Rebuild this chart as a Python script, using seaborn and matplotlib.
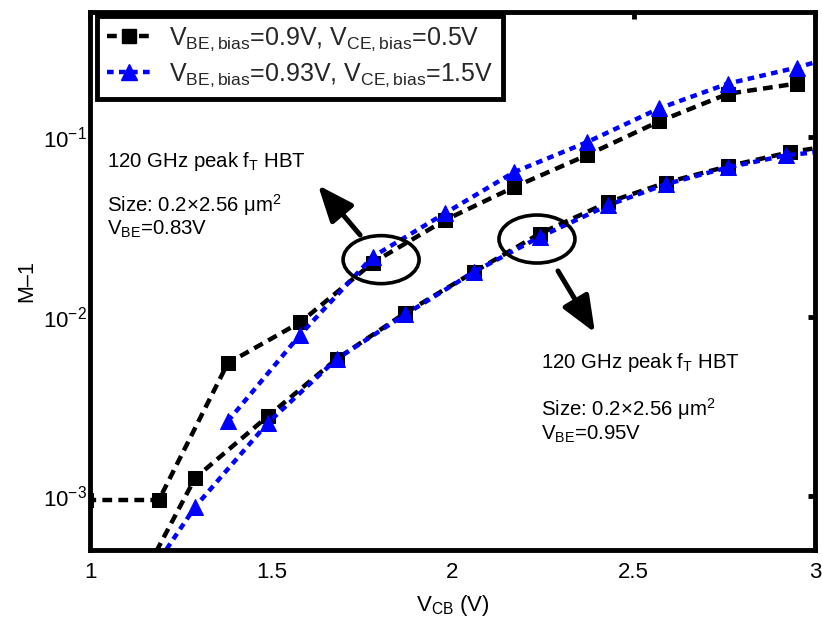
import numpy as np
import pandas as pd
import matplotlib
matplotlib.use("Agg")
import matplotlib.pyplot as plt
import seaborn as sns
from matplotlib.patches import Ellipse
from matplotlib.lines import Line2D

# ---------------- data ----------------
x_up_black = [0.99, 1.19, 1.38, 1.58, 1.78, 1.98, 2.17, 2.37, 2.57, 2.76, 2.95]
y_up_black = [9.5e-4, 9.5e-4, 5.5e-3, 9.3e-3, 0.020, 0.0346, 0.0528, 0.0794, 0.1227, 0.175, 0.1995]

x_up_blue = [1.38, 1.58, 1.78, 1.98, 2.17, 2.37, 2.57, 2.76, 2.95, 3.10]
y_up_blue = [2.61e-3, 7.94e-3, 0.0216, 0.0378, 0.064, 0.0938, 0.145, 0.1995, 0.245, 0.30]

x_lo_black = [1.10, 1.29, 1.49, 1.68, 1.87, 2.06, 2.24, 2.43, 2.59, 2.76, 2.93, 3.10]
y_lo_black = [2.37e-4, 1.26e-3, 2.78e-3, 5.8e-3, 0.0105, 0.0178, 0.029, 0.0435, 0.056, 0.069, 0.0826, 0.0935]

x_lo_blue = [1.10, 1.29, 1.49, 1.68, 1.87, 2.06, 2.24, 2.43, 2.59, 2.76, 2.92, 3.10]
y_lo_blue = [2.35e-4, 8.7e-4, 2.55e-3, 5.8e-3, 0.0103, 0.0178, 0.0278, 0.0419, 0.0549, 0.068, 0.0794, 0.0866]

legend_labels = [r'$\mathrm{V_{BE,bias}}$=0.9V, $\mathrm{V_{CE,bias}}$=0.5V',
                 r'$\mathrm{V_{BE,bias}}$=0.93V, $\mathrm{V_{CE,bias}}$=1.5V']
x_ticks = [1, 1.5, 2, 2.5, 3]
x_tick_labels = ['1', '1.5', '2', '2.5', '3']

# ---------------- style ----------------
sns.set_theme(style="white")
plt.rcParams['font.family'] = ['Liberation Sans', 'DejaVu Sans']
plt.rcParams['mathtext.fontset'] = 'custom'
plt.rcParams['mathtext.rm'] = 'Liberation Sans'
plt.rcParams['mathtext.it'] = 'Liberation Sans:italic'
plt.rcParams['mathtext.bf'] = 'Liberation Sans:bold'

fig = plt.figure(figsize=(8.22, 6.20), dpi=100)
ax = fig.add_axes([90/822, 70/620, 725/822, 538/620])
ax.set_yscale('log')
ax.set_xlim(1, 3)
ax.set_ylim(5e-4, 0.5)

black = '#000000'
blue = '#0000ff'
lw = 3.2
black_ls = (0, (2.2, 1.4))
blue_ls = (0, (1.5, 1.2))

def draw(xs, ys, color, marker, ms, ls):
    df = pd.DataFrame({'x': xs, 'y': ys})
    sns.lineplot(data=df, x='x', y='y', ax=ax, color=color, marker=marker,
                 markersize=ms, markeredgecolor=color, markerfacecolor=color,
                 linewidth=lw, linestyle=ls, estimator=None, sort=False,
                 legend=False)

draw(x_lo_black, y_lo_black, black, 's', 9.5, black_ls)
draw(x_up_black, y_up_black, black, 's', 9.5, black_ls)
draw(x_lo_blue, y_lo_blue, blue, '^', 12, blue_ls)
draw(x_up_blue, y_up_blue, blue, '^', 12, blue_ls)

# ---------------- axes ----------------
ax.set_xticks(x_ticks)
ax.set_xticklabels(x_tick_labels)
ax.minorticks_off()
ax.yaxis.set_minor_locator(matplotlib.ticker.NullLocator())
ax.tick_params(axis='both', which='major', direction='in', length=5, width=3.5,
               labelsize=16, top=True, right=True, colors='black')
ax.tick_params(axis='x', pad=9)
ax.tick_params(axis='y', pad=2)
for s in ax.spines.values():
    s.set_linewidth(3.5)
    s.set_color('black')
ax.set_xlabel(r'V$_\mathrm{CB}$ (V)', fontsize=16, labelpad=7, color='black')
ax.set_ylabel('M\u20131', fontsize=15.5, labelpad=4, color='black')
ax.grid(False)

# ---------------- legend ----------------
handles = [Line2D([], [], color=black, marker='s', markersize=9.5, linewidth=lw, linestyle=black_ls),
           Line2D([], [], color=blue, marker='^', markersize=12, linewidth=lw, linestyle=blue_ls)]
leg = ax.legend(handles, legend_labels, loc='upper left', bbox_to_anchor=(0.009, 0.993),
                fontsize=18, frameon=True, fancybox=False, framealpha=1,
                edgecolor='black', handlelength=1.8, handletextpad=0.7,
                borderpad=0.4, labelspacing=0.35, numpoints=1, borderaxespad=0)
leg.get_frame().set_linewidth(3.5)

# ---------------- annotations ----------------
def to_axes(x, y):
    ymin, ymax = np.log10(5e-4), np.log10(0.5)
    return ((x - 1) / 2.0, (np.log10(y) - ymin) / (ymax - ymin))

for cx, cy in [(1.803, 0.0208), (2.233, 0.0271)]:
    ex, ey = to_axes(cx, cy)
    ax.add_patch(Ellipse((ex, ey), 76/725, 48/538, transform=ax.transAxes,
                         fill=False, edgecolor='black', linewidth=2.6, zorder=5))

arrow_style = dict(arrowstyle='-|>,head_length=1.1,head_width=0.45',
                   color='black', lw=3.6, mutation_scale=20, shrinkA=0, shrinkB=0)
ax.annotate('', xy=(1.629, 0.0541), xytext=(1.745, 0.02856), arrowprops=arrow_style)
ax.annotate('', xy=(2.393, 0.00815), xytext=(2.291, 0.018), arrowprops=arrow_style)

fs = 14.7
# block 1
ax.text(1.047, 10**(-1 - (167 - 137) / 180), r'120 GHz peak f$_\mathrm{T}$ HBT', fontsize=fs, color='black')
ax.text(1.047, 10**(-1 - (212 - 137) / 180), 'Size: 0.2\u00d72.56 \u03bcm$^\mathrm{2}$', fontsize=fs, color='black')
ax.text(1.047, 10**(-1 - (235 - 137) / 180), r'V$_\mathrm{BE}$=0.83V', fontsize=fs, color='black')
# block 2
ax.text(2.245, 10**(-1 - (369 - 137) / 180), r'120 GHz peak f$_\mathrm{T}$ HBT', fontsize=fs, color='black')
ax.text(2.245, 10**(-1 - (416 - 137) / 180), 'Size: 0.2\u00d72.56 \u03bcm$^\mathrm{2}$', fontsize=fs, color='black')
ax.text(2.245, 10**(-1 - (440 - 137) / 180), r'V$_\mathrm{BE}$=0.95V', fontsize=fs, color='black')

fig.savefig('out.png', dpi=100, facecolor='white')
